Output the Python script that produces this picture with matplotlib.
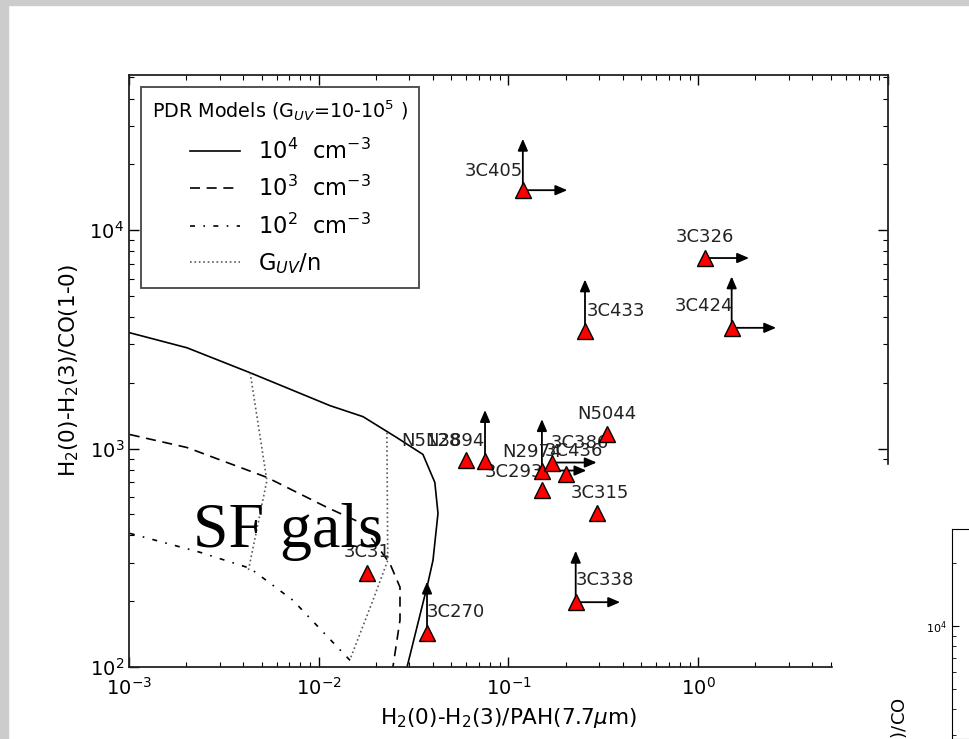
import numpy as np
import matplotlib.pyplot as plt
from matplotlib.patches import Rectangle

# PDR model tracks (x = H2/PAH, y = H2/CO)
n4_x = [1.01e-3, 2.02e-3, 4.35e-3, 0.01146, 0.0171, 0.0258, 0.0354, 0.0409, 0.0425, 0.0400, 0.0376, 0.0292]
n4_y = [3388, 2893, 2223, 1572, 1400, 1122, 940, 700, 505, 308, 242, 100]

n3_x = [1.01e-3, 2.02e-3, 5.33e-3, 0.01104, 0.01648, 0.0237, 0.0268, 0.0268, 0.0246]
n3_y = [1159, 1011, 738, 538, 459, 298, 232, 164, 100]

n2_x = [1.01e-3, 2.37e-3, 4.35e-3, 7.31e-3, 0.01496]
n2_y = [409, 335, 283, 202, 105]

g1_x = [4.35e-3, 5.33e-3, 4.24e-3]
g1_y = [2223, 714, 272]
g2_x = [0.02286, 0.0231, 0.0193, 0.0146]
g2_y = [1183, 308, 202, 108]

# galaxies
names = ['3C405', '3C326', '3C433', '3C424', 'N5044', 'N5128', 'N3894', 'N2974',
         '3C386', '3C436', '3C293', '3C315', '3C31', '3C270', '3C338']
gx = [0.119, 1.08, 0.253, 1.50, 0.330, 0.0597, 0.0752, 0.150,
      0.170, 0.200, 0.150, 0.292, 0.01795, 0.0372, 0.226]
gy = [15230, 7450, 3458, 3570, 1171, 882, 873, 793,
      863, 761, 643, 505, 269, 143, 198]
up_lim = ['3C405', '3C433', '3C424', 'N3894', 'N2974', '3C270', '3C338']
right_lim = ['3C405', '3C326', '3C424', 'N2974', '3C386', '3C338']

# label placement (offset points, alignment)
lab_off = {'3C405': (0, 14, 'right'), '3C326': (0, 15, 'center'), '3C433': (1, 14, 'left'),
           '3C424': (1, 16, 'right'), 'N5044': (0, 14, 'center'), 'N5128': (-4, 14, 'right'),
           'N3894': (0, 15, 'right'), 'N2974': (-7, 13, 'center'), '3C386': (-1, 14, 'left'),
           '3C436': (6, 17, 'center'), '3C293': (1, 13, 'right'), '3C315': (2, 15, 'center'),
           '3C31': (0, 15, 'center'), '3C270': (0, 15, 'left'), '3C338': (0, 16, 'left')}

fig = plt.figure(figsize=(9.7, 7.39), dpi=100)
fig.patch.set_facecolor('white')
fig.patches.append(Rectangle((0, 0), 8/970, 1, transform=fig.transFigure, color='#cccccc', zorder=0))
fig.patches.append(Rectangle((0, 1-5/739), 1, 5/739, transform=fig.transFigure, color='#cccccc', zorder=0))

ax = fig.add_axes([129/970, 1-667/739, 759/970, 592/739])
ax.set_xscale('log')
ax.set_yscale('log')
ax.set_xlim(1e-3, 10)
ax.set_ylim(100, 10**4.71)

ax.plot(n4_x, n4_y, color='k', lw=1.2, label='$10^4$  cm$^{-3}$')
ax.plot(n3_x, n3_y, color='k', lw=1.2, dashes=(6, 4), label='$10^3$  cm$^{-3}$')
ax.plot(n2_x, n2_y, color='k', lw=1.2, dashes=(3, 5, 1, 5), label='$10^2$  cm$^{-3}$')
ax.plot(g1_x, g1_y, color='0.35', lw=1.2, ls=':', label='G$_{UV}$/n')
ax.plot(g2_x, g2_y, color='0.35', lw=1.2, ls=':')

arw = dict(arrowstyle='<|-,head_length=0.7,head_width=0.3', color='k', lw=1.3, shrinkA=0, shrinkB=0)
for n, x, y in zip(names, gx, gy):
    if n in up_lim:
        ax.annotate('', xy=(x, y), xytext=(0, 37), textcoords='offset points', arrowprops=arw, zorder=3)
    if n in right_lim:
        ax.annotate('', xy=(x, y), xytext=(32, 0), textcoords='offset points', arrowprops=arw, zorder=3)
    dx, dy, ha = lab_off[n]
    ax.annotate(n, xy=(x, y), xytext=(dx, dy), textcoords='offset points', ha=ha, va='center',
                fontsize=13, color='#222222', zorder=4)

ax.plot(gx, gy, ls='none', marker='^', ms=12, mfc='red', mec='k', mew=1.0, zorder=5)

ax.set_xlabel('H$_2$(0)-H$_2$(3)/PAH(7.7$\\mu$m)', fontsize=15.5, labelpad=5)
ax.set_ylabel('H$_2$(0)-H$_2$(3)/CO(1-0)', fontsize=15.5, labelpad=6)
ax.tick_params(which='both', direction='in', top=True, right=True, labelsize=14)
ax.tick_params(axis='x', pad=7)
ax.tick_params(which='major', length=7, width=1)
ax.tick_params(which='minor', length=3.5, width=0.8)
for s in ax.spines.values():
    s.set_linewidth(1.3)
    s.set_color('#222222')

leg = ax.legend(loc='upper left', bbox_to_anchor=(12/759, 1-12/592), borderaxespad=0,
                title='PDR Models (G$_{UV}$=10-10$^5$ )', title_fontsize=13.8, fontsize=16.3,
                fancybox=False, framealpha=1, handlelength=2.2, labelspacing=0.55, borderpad=0.5)
leg.get_frame().set_edgecolor('#444444')
leg.get_frame().set_linewidth(1.3)
leg._legend_box.sep = 11

fig.text(193/970, 1-547/739, 'SF gals', family='Liberation Serif', fontsize=46, va='baseline', zorder=10)

# overlapping slide element at bottom right
fig.patches.append(Rectangle((833/970, 0), 1-833/970, (739-465)/739, transform=fig.transFigure,
                             color='white', zorder=20))
ax2 = fig.add_axes([952/970, 0, 0.2, (739-529)/739], zorder=30)
ax2.set_yscale('log')
ax2.set_ylim(10**3.459, 10**4.464)
ax2.set_xticks([])
ax2.tick_params(which='both', direction='in', labelsize=8)
ax2.tick_params(which='major', length=5)
ax2.tick_params(which='minor', length=3)
fig.text(900/970, 1-697/739, 'H$_2$(0)-H$_2$(3)/CO', rotation=90, ha='center', va='top', fontsize=13, zorder=31)

fig.savefig('out.png', dpi=100)
